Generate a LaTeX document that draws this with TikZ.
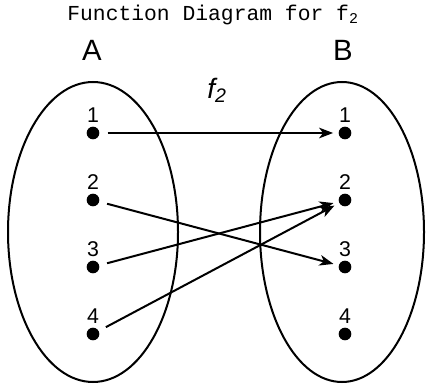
\documentclass[tikz,border=0pt]{standalone}
\usepackage{fontspec}
\setmainfont{Liberation Sans}
\setmonofont{Liberation Mono}
\usetikzlibrary{positioning,arrows.meta}

\begin{document}
\begin{tikzpicture}[x=0.75pt, y=-0.75pt,
    dot/.style={circle, fill=black, inner sep=0pt, minimum size=9.5pt},
    num/.style={font=\fontsize{16}{17}\selectfont, inner sep=0pt},
    setname/.style={font=\fontsize{22}{23}\selectfont},
    arr/.style={-{Stealth[length=10.5pt, width=8pt, inset=3pt]}, line width=1.5pt,
                shorten <=6pt, shorten >=4pt}]
      \useasboundingbox (0,0) rectangle (427,384);
      \node[font=\ttfamily\fontsize{16}{17}\selectfont] (title) at (213,15) {Function Diagram for f\textsubscript{2}};
      \node[setname] (A) at (92,50) {A};
      \node[setname] (B) at (343,50) {B};
      \node[font=\itshape\fontsize{21}{22}\selectfont] (f) at (217,90) {f\textsubscript{2}};
      \draw[line width=1.5pt] (93,232) ellipse [x radius=85, y radius=150];
      \draw[line width=1.5pt] (342,232) ellipse [x radius=82, y radius=150];
      % points of A and B
      \foreach \i/\y in {1/133, 2/200, 3/267, 4/334} {
        \node[dot] (a\i) at (93,\y) {};
        \node[dot] (b\i) at (345,\y) {};
        \node[num, above=2.5pt of a\i] (la\i) {\i};
        \node[num, above=2.5pt of b\i] (lb\i) {\i};
      }
      \draw[arr] (a1) -- (b1);
      \draw[arr] (a2) -- (b3);
      \draw[arr] (a3) -- (b2);
      \draw[arr] (a4) -- (b2);
    \end{tikzpicture}
\end{document}
